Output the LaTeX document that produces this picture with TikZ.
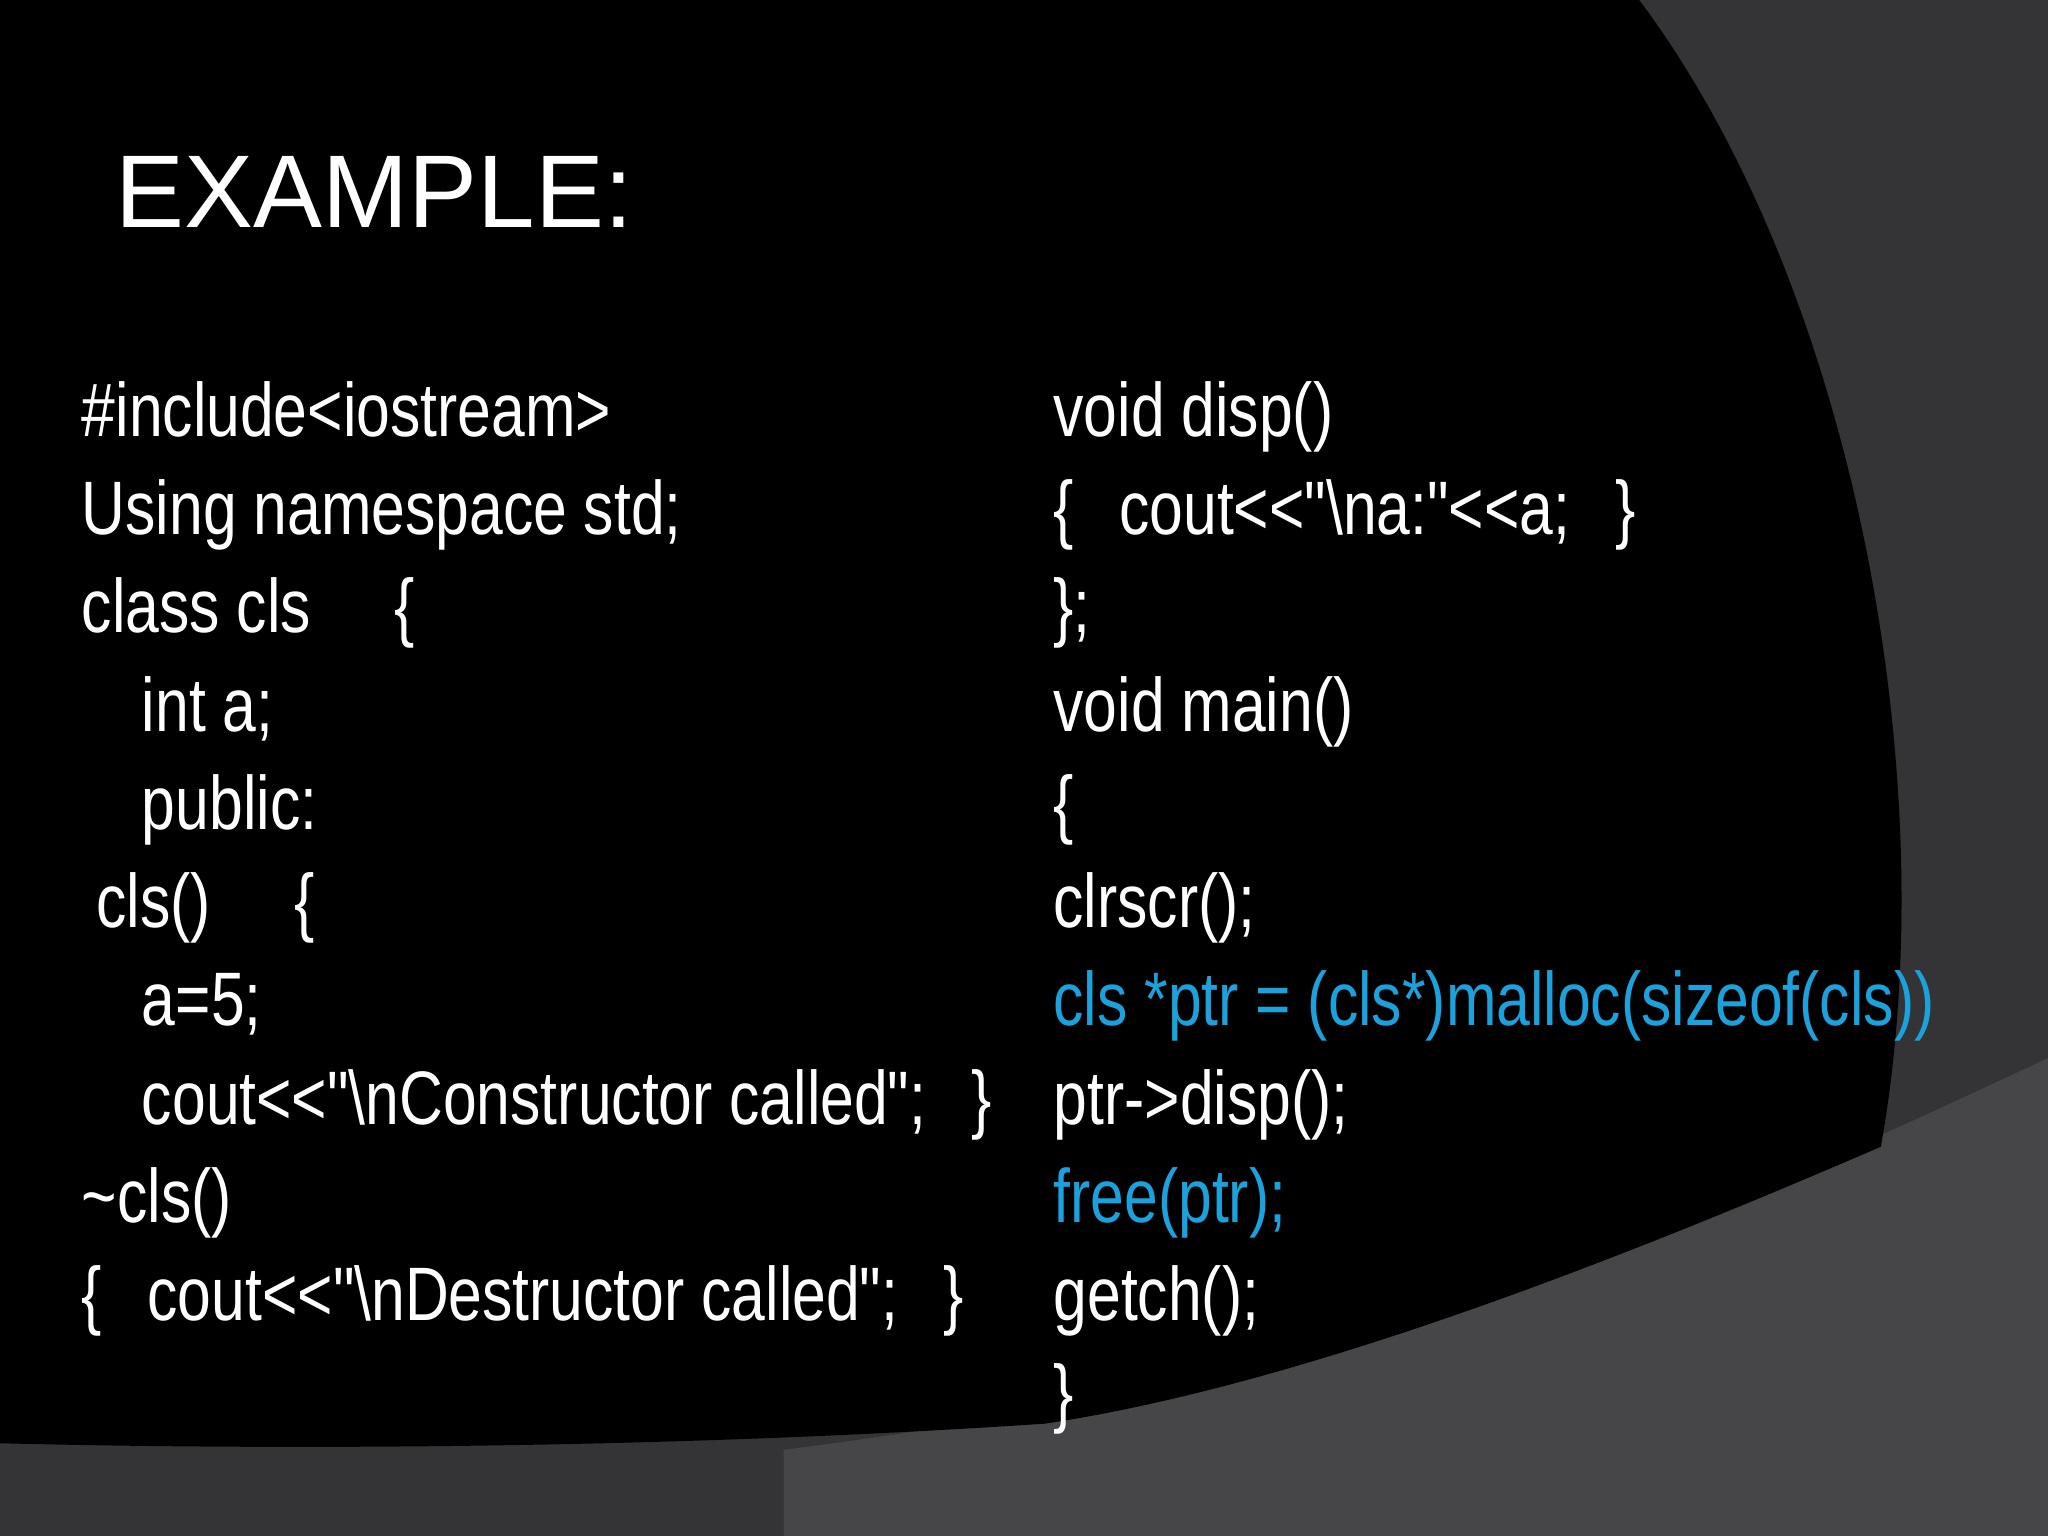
\documentclass[tikz,border=0pt]{standalone}
\usepackage{fontspec}
\setmainfont{Liberation Sans}
\newfontfamily\codefont[FakeStretch=0.8]{Liberation Sans}
\begin{document}
\begin{tikzpicture}[x=0.01cm,y=-0.01cm,
  code/.style={anchor=base west,inner sep=0pt,text=white,font=\codefont\fontsize{16.5}{18}\selectfont},
  hl/.style={text=codeblue}]
\definecolor{codeblue}{HTML}{1BA1DB}
\useasboundingbox (0,0) rectangle (1568,1176);
\fill[black!78!white!0,fill={rgb,255:red,52;green,52;blue,54}] (0,0) rectangle (1568,1176);
\fill[fill={rgb,255:red,70;green,70;blue,72}] (1568,810) .. controls (1250,960) and (1000,1060) .. (600,1110) -- (600,1176) -- (1568,1176) -- cycle;
\fill[black] (0,0) -- (1255,0) .. controls (1420,220) and (1490,600) .. (1440,878)
  .. controls (1250,960) and (1000,1060) .. (800,1090) .. controls (500,1110) and (200,1110) .. (0,1105) -- cycle;
\node[anchor=base west,inner sep=0pt,text=white,font=\fontsize{22.5}{26}\selectfont] (title) at (88,174) {EXAMPLE:};
% left column
\node[code] (l1) at (62,334) {\#include<iostream>};
\node[code] (l2) at (62,409) {Using namespace std;};
\node[code] (l3) at (62,484) {class cls\hspace{1.1em}\{};
\node[code] (l4) at (108,560) {int a;};
\node[code] (l5) at (108,635) {public:};
\node[code] (l6) at (73,710) {cls()\hspace{1.1em}\{};
\node[code] (l7) at (108,785) {a=5;};
\node[code] (l8) at (108,861) {cout<<"\textbackslash nConstructor called";\hspace{0.6em}\}};
\node[code] (l9) at (62,936) {\textasciitilde cls()};
\node[code] (l10) at (62,1011) {\{\hspace{0.6em}cout<<"\textbackslash nDestructor called";\hspace{0.6em}\}};
% right column
\node[code] (r1) at (806,334) {void disp()};
\node[code] (r2) at (806,409) {\{\hspace{0.6em}cout<<"\textbackslash na:"<<a;\hspace{0.6em}\}};
\node[code] (r3) at (806,484) {\};};
\node[code] (r4) at (806,560) {void main()};
\node[code] (r5) at (806,635) {\{};
\node[code] (r6) at (806,710) {clrscr();};
\node[code,hl] (r7) at (806,785) {cls *ptr = (cls*)malloc(sizeof(cls))};
\node[code] (r8) at (806,861) {ptr->disp();};
\node[code,hl] (r9) at (806,936) {free(ptr);};
\node[code] (r10) at (806,1011) {getch();};
\node[code] (r11) at (806,1086) {\}};
\end{tikzpicture}
\end{document}
